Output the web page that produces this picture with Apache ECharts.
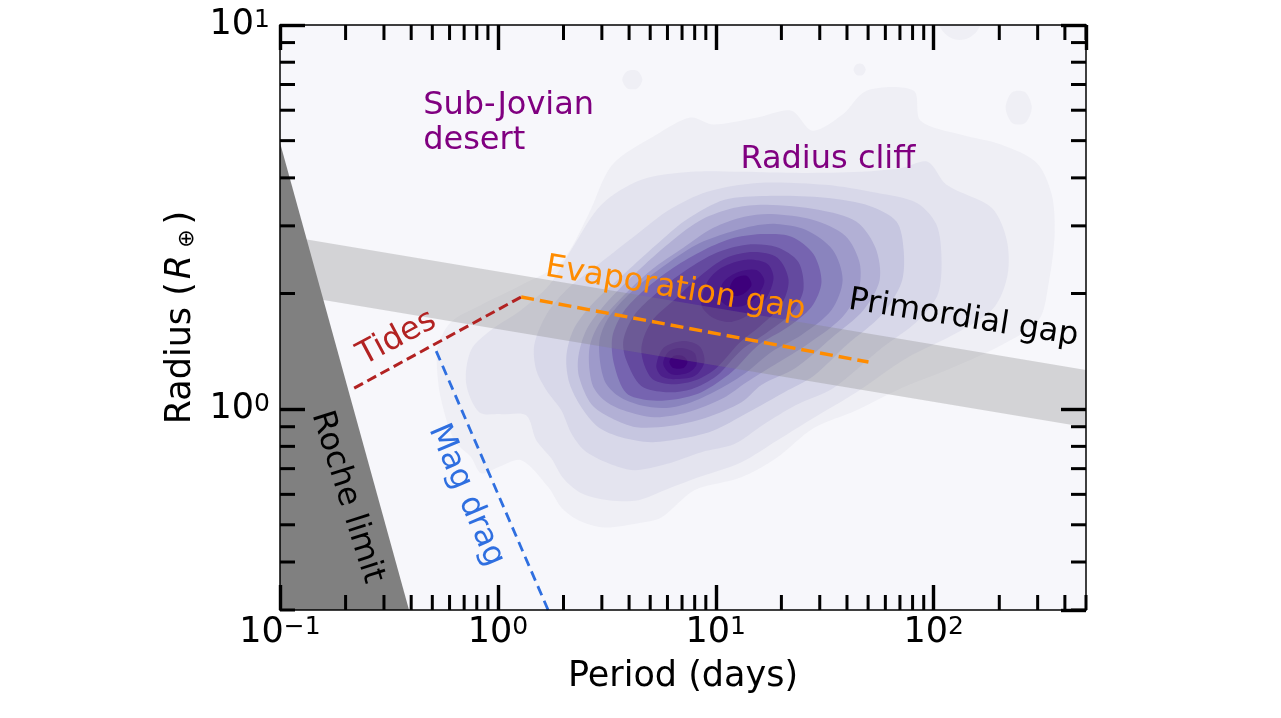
<!DOCTYPE html>
<html>
<head>
<meta charset="utf-8">
<script src="https://cdn.jsdelivr.net/npm/echarts@6/dist/echarts.min.js"></script>
<style>html,body{margin:0;padding:0;background:#fff}#chart{width:1281px;height:718px}</style>
</head>
<body>
<div id="chart"></div>
<script>
const FONT = 'DejaVu Sans';

// ---- axes ----
const xMin = 0.1, xMax = 500, yMin = 0.3, yMax = 10;
const xMinorTicks = [0.2,0.3,0.4,0.5,0.6,0.7,0.8,0.9,2,3,4,5,6,7,8,9,20,30,40,50,60,70,80,90,200,300,400,500];
const yMinorTicks = [0.3,0.4,0.5,0.6,0.7,0.8,0.9,2,3,4,5,6,7,8,9];

// ---- regions and boundary lines, [period (days), radius (R_earth)] ----
const rocheLimit = [[0.1,0.3],[0.1,4.94],[0.391,0.3]];
const primordialGap = [[0.1,2.84],[500,1.264],[500,0.897],[0.1,2.01]];
const tidesLine = [[0.219,1.134],[1.279,1.959]];
const evaporationLine = [[1.279,1.959],[50.2,1.326]];
const magDragLine = [[0.521,1.416],[1.70,0.30]];

// ---- annotations ----
const labelTexts = ['Sub-Jovian\ndesert','Radius cliff','Evaporation gap','Primordial gap','Tides','Mag drag','Roche limit'];
const labelAnchors = [[0.454,5.55],[12.97,4.47],[6.52,2.055],[137,1.722],[0.344,1.531],[0.715,0.597],[0.203,0.590]];

// ---- density contours: vertices as [log10 period, log10 radius] ----
const level1 = [
 [[-0.274,0.167],[-0.215,0.227],[-0.077,0.271],[0.107,0.323],[0.291,0.383],[0.415,0.506],[0.525,0.636],[0.727,0.714],[0.883,0.759],[0.989,0.741],[1.191,0.759],[1.347,0.777],[1.444,0.725],[1.582,0.767],[1.692,0.829],[1.908,0.829],[1.940,0.751],[2.128,0.714],[2.312,0.688],[2.473,0.641],[2.542,0.558],[2.555,0.454],[2.528,0.329],[2.482,0.232],[2.312,0.167],[2.082,0.107],[1.853,0.055],[1.646,-0.003],[1.448,-0.050],[1.283,-0.125],[1.118,-0.177],[0.902,-0.211],[0.750,-0.282],[0.644,-0.297],[0.488,-0.308],[0.369,-0.289],[0.291,-0.256],[0.231,-0.203],[0.107,-0.133],[0.001,-0.151],[-0.077,-0.167],[-0.123,-0.125],[-0.201,-0.081],[-0.260,0.023],[-0.279,0.102]],
 [[0.571,0.858],[0.594,0.880],[0.640,0.881],[0.663,0.858],[0.640,0.835],[0.594,0.835]],
 [[1.632,0.884],[1.646,0.898],[1.674,0.898],[1.688,0.884],[1.674,0.870],[1.646,0.870]],
 [[2.330,0.785],[2.360,0.825],[2.420,0.825],[2.450,0.785],[2.420,0.745],[2.360,0.745]],
 [[2.018,1.02],[2.040,0.985],[2.080,0.966],[2.119,0.961],[2.160,0.966],[2.200,0.985],[2.220,1.02]]
];
const level2 = [[[-0.146,0.068],[-0.123,0.154],[-0.031,0.206],[0.107,0.258],[0.236,0.323],[0.337,0.415],[0.475,0.532],[0.658,0.597],[0.888,0.618],[1.118,0.618],[1.393,0.615],[1.669,0.618],[1.853,0.628],[1.972,0.644],[2.059,0.584],[2.266,0.524],[2.335,0.441],[2.339,0.349],[2.275,0.263],[2.105,0.198],[1.876,0.133],[1.646,0.044],[1.448,-0.023],[1.283,-0.081],[1.118,-0.138],[0.934,-0.175],[0.787,-0.206],[0.644,-0.237],[0.507,-0.237],[0.383,-0.219],[0.300,-0.180],[0.245,-0.128],[0.176,-0.081],[0.130,-0.016],[0.015,-0.013],[-0.086,-0.008]]];
const level3 = [[[0.167,0.167],[0.222,0.245],[0.314,0.310],[0.475,0.383],[0.635,0.454],[0.787,0.519],[0.961,0.566],[1.191,0.589],[1.503,0.584],[1.738,0.563],[1.921,0.537],[2.013,0.480],[2.036,0.389],[2.018,0.297],[1.921,0.227],[1.761,0.159],[1.540,0.055],[1.366,0.010],[1.214,-0.042],[1.085,-0.091],[0.934,-0.112],[0.773,-0.143],[0.626,-0.159],[0.507,-0.141],[0.396,-0.107],[0.337,-0.063],[0.291,-0.003],[0.222,0.050],[0.176,0.102]]];
const level4 = [[[0.314,0.136],[0.346,0.206],[0.429,0.271],[0.589,0.357],[0.727,0.428],[0.865,0.493],[1.040,0.545],[1.232,0.555],[1.503,0.550],[1.706,0.529],[1.830,0.488],[1.862,0.415],[1.853,0.331],[1.761,0.245],[1.600,0.167],[1.448,0.086],[1.315,0.044],[1.150,-0.008],[0.984,-0.057],[0.851,-0.076],[0.704,-0.086],[0.566,-0.073],[0.461,-0.047],[0.383,0.005],[0.328,0.068]]];
const level5 = [[[0.369,0.136],[0.406,0.206],[0.497,0.276],[0.658,0.368],[0.805,0.441],[0.934,0.493],[1.085,0.524],[1.232,0.532],[1.471,0.519],[1.646,0.488],[1.733,0.420],[1.752,0.336],[1.678,0.258],[1.531,0.185],[1.366,0.107],[1.209,0.063],[1.118,0.018],[0.952,-0.023],[0.787,-0.044],[0.635,-0.047],[0.520,-0.023],[0.429,0.013],[0.373,0.083]]];
const level6 = [[[0.419,0.154],[0.461,0.219],[0.566,0.289],[0.704,0.362],[0.851,0.420],[0.989,0.472],[1.131,0.501],[1.255,0.508],[1.444,0.493],[1.595,0.451],[1.660,0.381],[1.655,0.310],[1.577,0.237],[1.416,0.167],[1.283,0.120],[1.141,0.070],[1.035,0.029],[0.870,-0.008],[0.718,-0.021],[0.576,-0.003],[0.488,0.023],[0.433,0.065]]];
const level7 = [[[0.465,0.172],[0.507,0.237],[0.612,0.305],[0.750,0.368],[0.911,0.428],[1.053,0.459],[1.173,0.477],[1.278,0.482],[1.412,0.467],[1.536,0.415],[1.582,0.336],[1.531,0.258],[1.393,0.193],[1.255,0.149],[1.141,0.096],[1.026,0.055],[0.888,0.018],[0.773,0.003],[0.654,0.010],[0.553,0.034],[0.488,0.076]]];
const level8 = [[[0.525,0.188],[0.576,0.253],[0.672,0.310],[0.805,0.368],[0.948,0.415],[1.085,0.446],[1.223,0.456],[1.347,0.449],[1.448,0.404],[1.485,0.331],[1.439,0.266],[1.324,0.211],[1.196,0.167],[1.072,0.096],[0.934,0.044],[0.819,0.026],[0.695,0.023],[0.589,0.042],[0.534,0.115]]];
const level9 = [[[0.576,0.180],[0.626,0.245],[0.727,0.302],[0.865,0.362],[1.003,0.407],[1.141,0.428],[1.278,0.422],[1.379,0.383],[1.402,0.310],[1.347,0.250],[1.232,0.198],[1.118,0.154],[1.003,0.086],[0.888,0.052],[0.773,0.044],[0.658,0.060],[0.589,0.128]]];
const level10 = [[[0.658,0.154],[0.704,0.227],[0.819,0.289],[0.934,0.349],[1.049,0.394],[1.173,0.409],[1.283,0.394],[1.334,0.336],[1.301,0.271],[1.209,0.219],[1.108,0.172],[1.003,0.107],[0.911,0.076],[0.796,0.065],[0.704,0.081]]];
const level11 = [
 [[0.934,0.271],[0.961,0.331],[1.026,0.368],[1.141,0.389],[1.237,0.378],[1.265,0.342],[1.232,0.289],[1.164,0.250],[1.072,0.227],[0.989,0.237]],
 [[0.727,0.112],[0.759,0.159],[0.842,0.177],[0.925,0.164],[0.948,0.123],[0.902,0.086],[0.805,0.078],[0.750,0.086]]
];
const level12 = [
 [[1.017,0.289],[1.035,0.331],[1.104,0.357],[1.187,0.362],[1.223,0.334],[1.191,0.295],[1.127,0.269],[1.053,0.269]],
 [[0.759,0.117],[0.782,0.149],[0.842,0.159],[0.902,0.146],[0.911,0.115],[0.870,0.094],[0.796,0.091]]
];
const level13 = [
 [[1.062,0.310],[1.085,0.339],[1.141,0.347],[1.164,0.323],[1.127,0.300],[1.081,0.295]],
 [[0.787,0.123],[0.805,0.138],[0.851,0.138],[0.870,0.123],[0.851,0.107],[0.805,0.107]]
];

// ---- styles ----
const contourColors = ['#efeff5','#e4e4ef','#d8d8e9','#c6c6e0','#b2b0d5','#9e9aca','#8a84be','#7664b0','#644a9f','#573294','#4c1f8b','#441084','#3d007b'];
const labelStyles = [
  {color:'#800080', rot:0, align:'left'},
  {color:'#800080', rot:0, align:'left'},
  {color:'#ff8c00', rot:-9.5, align:'center'},
  {color:'#000000', rot:-9, align:'center'},
  {color:'#b22222', rot:28, align:'center'},
  {color:'#2f6fe0', rot:-67, align:'center'},
  {color:'#000000', rot:-72.5, align:'center'}
];

// ---- build shapes ----
const contourLevels = [level1,level2,level3,level4,level5,level6,level7,level8,level9,level10,level11,level12,level13];
const contourShapes = [];
contourLevels.forEach((lvl, li) => lvl.forEach(poly => {
  contourShapes.push({ li: li, pts: poly.map(p => [Math.pow(10, p[0]), Math.pow(10, p[1])]) });
}));

function powLabel(v) {
  const e = Math.round(Math.log10(v));
  return '{b|10}{s|' + (e < 0 ? '\u2212' + (-e) : String(e)) + '}';
}
const labelRich = {
  b: { fontSize: 35, fontFamily: FONT, color: '#000', lineHeight: 35 },
  s: { fontSize: 25, fontFamily: FONT, color: '#000', lineHeight: 25, verticalAlign: 'top' }
};

function logAxis(isX, pos, showLabel) {
  return {
    type: 'log', logBase: 10,
    min: isX ? xMin : yMin, max: isX ? xMax : yMax,
    position: pos, z: 20,
    axisLine: { show: true, onZero: false, lineStyle: { color: '#000', width: 1.5 } },
    axisTick: { show: true, inside: true, length: 25, lineStyle: { color: '#000', width: 3.4 } },
    minorTick: { show: false },
    splitLine: { show: false },
    minorSplitLine: { show: false },
    axisLabel: { show: showLabel, formatter: powLabel, rich: labelRich, margin: isX ? 5 : 10,
                 showMaxLabel: isX ? false : true, showMinLabel: isX ? true : false }
  };
}

const xBottom = logAxis(true, 'bottom', true);
xBottom.name = 'Period (days)';
xBottom.nameLocation = 'middle';
xBottom.nameGap = 49;
xBottom.nameTextStyle = { fontSize: 35, fontFamily: FONT, color: '#000' };
const xTop = logAxis(true, 'top', false);
const yLeft = logAxis(false, 'left', true);
yLeft.name = '{a|Radius (}{i|R}{u|\u2295}{a|)}';
yLeft.nameLocation = 'middle';
yLeft.nameRotate = 90;
yLeft.nameGap = 82;
yLeft.nameTextStyle = { fontSize: 35, fontFamily: FONT, color: '#000', rich: {
  a: { fontSize: 35, fontFamily: FONT, color: '#000', lineHeight: 35 },
  i: { fontSize: 35, fontFamily: FONT, color: '#000', fontStyle: 'italic', lineHeight: 35, padding: [0, 7, 0, 3] },
  u: { fontSize: 22, fontFamily: FONT, color: '#000', lineHeight: 10, verticalAlign: 'bottom', padding: [0, 5, 0, 0] }
}};
const yRight = logAxis(false, 'right', false);

const chart = echarts.init(document.getElementById('chart'), null, { renderer: 'canvas' });
chart.setOption({
  animation: false,
  backgroundColor: '#ffffff',
  grid: { left: 280, top: 25, width: 806, height: 585, show: true, backgroundColor: '#f7f7fb', borderWidth: 0 },
  xAxis: [xBottom, xTop],
  yAxis: [yLeft, yRight],
  series: [
    {
      type: 'custom', name: 'density', coordinateSystem: 'cartesian2d', clip: true, silent: true, z: 1,
      data: contourShapes.map(() => [1, 1]),
      renderItem: function (params, api) {
        const s = contourShapes[params.dataIndex];
        return { type: 'polygon', shape: { points: s.pts.map(p => api.coord(p)), smooth: 0.3 },
                 style: { fill: contourColors[s.li] } };
      }
    },
    {
      type: 'custom', name: 'Primordial gap', coordinateSystem: 'cartesian2d', clip: true, silent: true, z: 2,
      data: [[1, 1]],
      renderItem: function (params, api) {
        return { type: 'polygon', shape: { points: primordialGap.map(p => api.coord(p)) },
                 style: { fill: 'rgba(128,128,128,0.3)' } };
      }
    },
    {
      type: 'custom', name: 'Roche limit', coordinateSystem: 'cartesian2d', clip: true, silent: true, z: 3,
      data: [[1, 1]],
      renderItem: function (params, api) {
        return { type: 'polygon', shape: { points: rocheLimit.map(p => api.coord(p)) },
                 style: { fill: '#808080' } };
      }
    },
    { type: 'line', name: 'Tides', data: tidesLine, symbol: 'none', silent: true, z: 4,
      lineStyle: { color: '#b22222', width: 3, type: [10, 5] } },
    { type: 'line', name: 'Evaporation gap', data: evaporationLine, symbol: 'none', silent: true, z: 4,
      lineStyle: { color: '#ff8c00', width: 3.5, type: [13, 6] } },
    { type: 'line', name: 'Mag drag', data: magDragLine, symbol: 'none', silent: true, z: 4,
      lineStyle: { color: '#2f6fe0', width: 2.8, type: [10, 6] } },
    {
      type: 'custom', name: 'labels', coordinateSystem: 'cartesian2d', clip: false, silent: true, z: 5,
      data: labelAnchors,
      renderItem: function (params, api) {
        const i = params.dataIndex;
        const p = api.coord([api.value(0), api.value(1)]);
        const st = labelStyles[i];
        return { type: 'text', x: p[0], y: p[1], rotation: st.rot * Math.PI / 180,
                 style: { text: labelTexts[i], fill: st.color, fontSize: 32, fontFamily: FONT,
                          align: st.align, verticalAlign: 'middle', lineHeight: 35 } };
      }
    },
    {
      type: 'custom', name: 'x minor ticks', coordinateSystem: 'cartesian2d', clip: false, silent: true, z: 6,
      data: xMinorTicks.map(v => [v, 1]),
      renderItem: function (params, api) {
        const v = api.value(0);
        const b = api.coord([v, yMin]);
        const t = api.coord([v, yMax]);
        const ls = { stroke: '#000', lineWidth: 3 };
        return { type: 'group', children: [
          { type: 'line', shape: { x1: b[0], y1: b[1], x2: b[0], y2: b[1] - 15 }, style: ls },
          { type: 'line', shape: { x1: t[0], y1: t[1], x2: t[0], y2: t[1] + 15 }, style: ls }
        ] };
      }
    },
    {
      type: 'custom', name: 'y minor ticks', coordinateSystem: 'cartesian2d', clip: false, silent: true, z: 6,
      data: yMinorTicks.map(v => [1, v]),
      renderItem: function (params, api) {
        const v = api.value(1);
        const l = api.coord([xMin, v]);
        const r = api.coord([xMax, v]);
        const ls = { stroke: '#000', lineWidth: 3 };
        return { type: 'group', children: [
          { type: 'line', shape: { x1: l[0], y1: l[1], x2: l[0] + 15, y2: l[1] }, style: ls },
          { type: 'line', shape: { x1: r[0], y1: r[1], x2: r[0] - 15, y2: r[1] }, style: ls }
        ] };
      }
    }
  ]
});
</script>
</body>
</html>
